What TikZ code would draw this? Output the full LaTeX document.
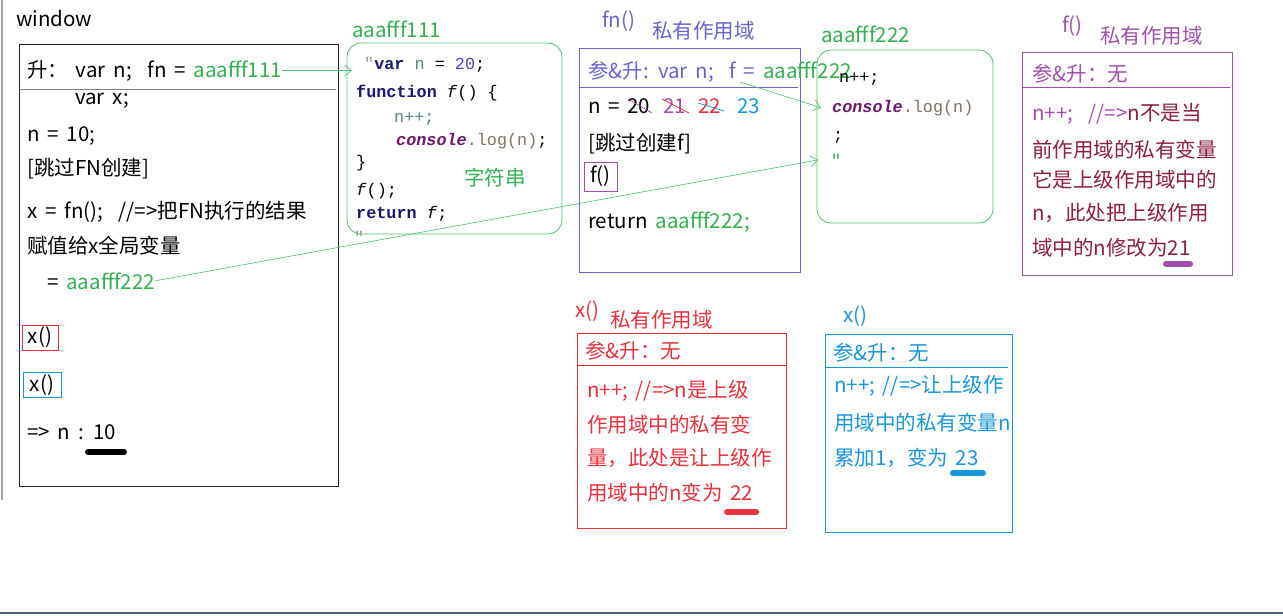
\documentclass[tikz,border=0pt]{standalone}
\usepackage{fontspec}
\setmainfont[WordSpace=1.7]{Noto Sans CJK SC}
\setmonofont{Liberation Mono}
\usetikzlibrary{arrows.meta}

\definecolor{addr}{RGB}{52,176,82}
\definecolor{ptrgreen}{RGB}{80,190,110}
\definecolor{fnblue}{RGB}{105,100,200}
\definecolor{fpurple}{RGB}{160,80,170}
\definecolor{fmaroon}{RGB}{140,30,65}
\definecolor{xred}{RGB}{230,50,60}
\definecolor{xblue}{RGB}{25,150,215}
\definecolor{kw}{RGB}{25,25,110}
\definecolor{vn}{RGB}{90,130,130}
\definecolor{num}{RGB}{70,70,180}
\definecolor{cons}{RGB}{110,25,110}
\definecolor{meth}{RGB}{125,115,95}
\definecolor{qtgray}{RGB}{150,160,150}
\definecolor{edgeline}{RGB}{75,95,125}

\begin{document}
\begin{tikzpicture}[x=1pt,y=-1pt]
			\tikzset{
				txt/.style={anchor=base west, inner sep=0pt, font=\fontsize{20.5}{24}\selectfont},
				code/.style={anchor=base west, inner sep=0pt, font=\ttfamily\fontsize{16.8}{20}\selectfont},
				ptr/.style={draw=ptrgreen, line width=0.6pt, -{Straight Barb[length=7pt,width=11pt]}},
				callbox/.style={draw, line width=0.8pt, inner sep=0pt, minimum height=25pt, font=\fontsize{20.5}{24}\selectfont},
				hiline/.style={line width=6pt, line cap=round},
				strike/.style={line width=0.8pt}
			}
			\useasboundingbox (0,0) rectangle (1283,616);
			\fill[white] (0,0) rectangle (1283,616);

			% frame of the screenshot
			\draw[gray!70, line width=1.5pt] (2,0) -- (2,500);
			\draw[edgeline, line width=2pt] (0,613) -- (1283,613);

			% window
			\node[txt] (wlabel) at (16,26) {window};
			\draw[black!85, line width=0.8pt] (19,44) rectangle (338,486);
			\draw[gray, line width=1pt] (19,89) -- (336,89);
			\node[txt] (whdr) at (27,77) {升：\ var n;\ \ fn = \textcolor{addr}{aaafff111}};
			\node[txt] (wvarx) at (75,104) {var x;};
			\node[txt] (wn) at (27,141) {n = 10;};
			\node[txt] (wskip) at (27,175) {[跳过FN创建]};
			\node[txt] (wx) at (27,218) {x = fn();\ \ //=>把FN执行的结果};
			\node[txt] (wx2) at (27,253) {赋值给x全局变量};
			\node[txt] (w222) at (47,289) {= \textcolor{addr}{aaafff222}};
			\node[callbox, draw=xred, minimum width=36pt] (xcall1) at (40,337.5) {x()};
			\node[callbox, draw=xblue, minimum width=38pt] (xcall2) at (42,385) {x()};
			\node[txt] (wres) at (27,439) {=> n : 10};
			\draw[hiline] (88,452) -- (124,452);

			% heap: aaafff111
			\node[txt, text=addr] (h111) at (352,37) {aaafff111};
			\draw[ptrgreen, line width=0.8pt, rounded corners=14pt] (347,43) rectangle (562,234);
			\node[code] (c1) at (364,69) {\textcolor{qtgray}{"}\textbf{\textcolor{kw}{var}} \textcolor{vn}{n} = \textcolor{num}{20};};
			\node[code] (c2) at (356,97) {\textbf{\textcolor{kw}{function}} \textit{f}() \{};
			\node[code] (c3) at (394,122) {\textcolor{vn}{n++;}};
			\node[code] (c4) at (396,145) {\textbf{\textit{\textcolor{cons}{console}}}\textcolor{meth}{.log(n)};};
			\node[code] (c5) at (356,167) {\}};
			\node[code] (c6) at (356,195) {\textit{f}();};
			\node[code] (c7) at (356,218) {\textbf{\textcolor{kw}{return}} \textit{f};};
			\node[code, text=qtgray] (c8) at (354,243) {"};
			\node[txt, text=addr] (cstr) at (464,185) {字符串};

			% fn() scope
			\node[txt, text=fnblue] (fnlabel) at (602,27) {fn()};
			\node[txt, text=fnblue] (fnscope) at (652,38) {私有作用域};
			\draw[fnblue, line width=0.8pt] (579,48) rectangle (800,272);
			\draw[fnblue, line width=1pt] (579,87) -- (798,87);
			\node[txt, text=fnblue] (fnhdr) at (588,78) {参\&升: var n;\ \ f = \textcolor{addr}{aaafff222}};
			\node[txt] (fnn) at (588,113) {n =};
			\node[txt] (n20) at (627,113) {20};
			\node[txt, text=fpurple] (n21) at (663,113) {21};
			\node[txt, text=xred] (n22) at (698,113) {22};
			\node[txt, text=xblue] (n23) at (737,113) {23};
			\draw[strike, fpurple] (630,100) -- (652,113);
			\draw[strike, xred] (662,99) -- (689,113);
			\draw[strike, xblue] (698,103) -- (724,111);
			\node[txt] (fnskip) at (588,150) {[跳过创建f]};
			\node[callbox, draw=fpurple, minimum width=33pt, minimum height=29pt] (fcall) at (600.5,176.5) {f()};
			\node[txt] (fnret) at (588,228) {return \textcolor{addr}{aaafff222;}};

			% heap: aaafff222
			\node[txt, text=addr] (h222) at (821,42) {aaafff222};
			\draw[ptrgreen, line width=0.8pt, rounded corners=14pt] (817,50) rectangle (993,223);
			\node[code] (d1) at (839,82) {n++;};
			\node[code] (d2) at (832,112) {\textbf{\textit{\textcolor{cons}{console}}}\textcolor{meth}{.log(n)}};
			\node[code] (d3) at (833,140) {;};
			\node[code, text=addr] (d4) at (831,166) {"};

			% f() scope
			\node[txt, text=fpurple] (flabel) at (1062,32) {f()};
			\node[txt, text=fpurple] (fscope) at (1100,43) {私有作用域};
			\draw[fpurple, line width=0.8pt] (1022,52) rectangle (1232,275);
			\draw[fpurple, line width=1pt] (1022,87) -- (1230,87);
			\node[txt, text=fpurple] (fhdr) at (1032,81) {参\&升：无};
			\node[txt, text=fmaroon] (f1) at (1032,120) {\textcolor{fpurple}{n++;\ \ //=>}n不是当};
			\node[txt, text=fmaroon] (f2) at (1032,157) {前作用域的私有变量};
			\node[txt, text=fmaroon] (f3) at (1032,187) {它是上级作用域中的};
			\node[txt, text=fmaroon] (f4) at (1032,220) {n，此处把上级作用};
			\node[txt, text=fmaroon] (f5) at (1032,255) {域中的n修改为21};
			\draw[hiline, fpurple] (1166,264) -- (1190,264);

			% x() scope, first call
			\node[txt, text=xred] (x1label) at (575,317) {x()};
			\node[txt, text=xred] (x1scope) at (610,327) {私有作用域};
			\draw[xred, line width=0.8pt] (577,333) rectangle (786,528);
			\draw[xred, line width=1pt] (577,365) -- (786,365);
			\node[txt, text=xred] (x1hdr) at (585,358) {参\&升：无};
			\node[txt, text=xred] (x1a) at (587,397) {n++; //=>n是上级};
			\node[txt, text=xred] (x1b) at (587,432) {作用域中的私有变};
			\node[txt, text=xred] (x1c) at (587,465) {量，此处是让上级作};
			\node[txt, text=xred] (x1d) at (587,500) {用域中的n变为 22};
			\draw[hiline, xred] (727,512) -- (756,512);

			% x() scope, second call
			\node[txt, text=xblue] (x2label) at (843,322) {x()};
			\draw[xblue, line width=0.8pt] (825,334) rectangle (1012,532);
			\draw[xblue, line width=1pt] (825,367) -- (1008,367);
			\node[txt, text=xblue] (x2hdr) at (833,360) {参\&升：无};
			\node[txt, text=xblue] (x2a) at (834,392) {n++; //=>让上级作};
			\node[txt, text=xblue] (x2b) at (834,430) {用域中的私有变量n};
			\node[txt, text=xblue] (x2c) at (834,465) {累加1，变为 23};
			\draw[hiline, xblue] (953,473) -- (983,473);

			% pointers
			\coordinate (fsrc) at (740,82);
			\draw[ptr] (whdr.east) -- (whdr.east -| h111.west);
			\draw[ptr] (fsrc) -- ([xshift=-11pt]d2.west);
			\draw[ptr] (w222.east) -- ([xshift=-13pt]d4.west);
		\end{tikzpicture}
\end{document}
